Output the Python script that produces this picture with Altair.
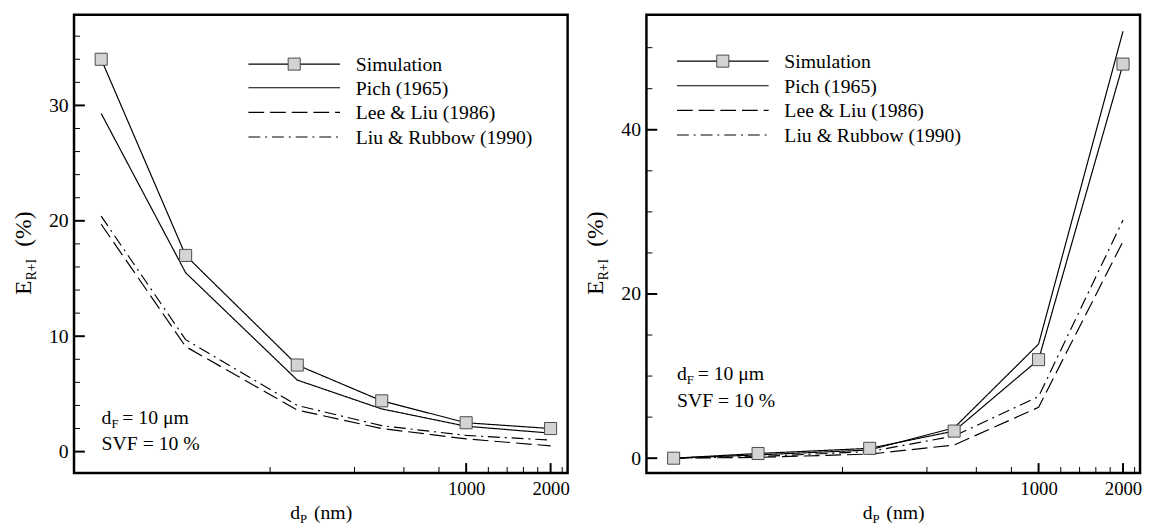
import altair as alt
import pandas as pd

FONT = "Liberation Serif"

# ---------------- data ----------------
dp_nm = [50, 100, 250, 500, 1000, 2000]
series_names = ["Simulation", "Pich (1965)", "Lee & Liu (1986)", "Liu & Rubbow (1990)"]

left_simulation = [34.0, 17.0, 7.5, 4.4, 2.5, 2.0]
left_pich = [29.3, 15.5, 6.2, 3.7, 2.2, 1.6]
left_lee_liu = [19.7, 9.1, 3.6, 2.0, 1.1, 0.5]
left_liu_rubbow = [20.4, 9.7, 4.0, 2.25, 1.4, 1.0]

right_simulation = [0.0, 0.57, 1.2, 3.3, 12.0, 48.0]
right_pich = [0.0, 0.4, 1.0, 3.7, 13.9, 52.0]
right_lee_liu = [0.0, 0.1, 0.5, 1.6, 6.2, 26.4]
right_liu_rubbow = [0.0, 0.2, 0.8, 2.7, 7.5, 29.0]

x_major_ticks = [1000, 2000]
x_minor_ticks = [200, 400, 600, 800, 1200, 1400, 1600, 1800, 2200]
left_y_major = [0, 10, 20, 30]
left_y_minor = [2, 4, 6, 8, 12, 14, 16, 18, 22, 24, 26, 28, 32, 34, 36]
right_y_major = [0, 20, 40]
right_y_minor = [5, 10, 15, 25, 30, 35, 45, 50]

annotation_line1 = ("d", "F", "= 10 μm")
annotation_line2 = "SVF = 10 %"

# ---------------- style ----------------
W, H = 501, 465
X_DOMAIN = [40, 2300]
DASHES = [[1, 0], [1, 0], [16, 6], [12, 5, 2, 5]]
MAIN_FS = 20
SUB_FS = 13


def one_row():
    return alt.Chart(pd.DataFrame({"k": [0]}))


def text_at(txt, x, y, size=MAIN_FS, angle=None, align="left"):
    kw = dict(align=align, baseline="alphabetic", font=FONT, fontSize=size, color="black")
    if angle is not None:
        kw["angle"] = angle
    return one_row().mark_text(**kw).encode(
        x=alt.value(x), y=alt.value(y), text=alt.value(txt)
    )


def panel(values, ydomain, ymajor, yminor, legend_x, legend_y, ann_x, ann_y):
    rows = []
    for name, vals in zip(series_names, values):
        for d, v in zip(dp_nm, vals):
            rows.append({"dp": d, "E": v, "series": name})
    df = pd.DataFrame(rows)

    xs = alt.Scale(type="log", domain=X_DOMAIN)
    ys = alt.Scale(domain=ydomain, nice=False, zero=False)

    x_axis = alt.Axis(values=x_major_ticks, format="d", ticks=False, tickSize=0, domain=False,
                      grid=False, title=None, labelFont=FONT, labelFontSize=19,
                      labelPadding=7, labelFlush=False, labelColor="black", labelOverlap=False)
    y_axis = alt.Axis(values=ymajor, format="d", ticks=False, tickSize=0, domain=False,
                      grid=False, title=None, labelFont=FONT, labelFontSize=20,
                      labelPadding=6, labelColor="black", labelOverlap=False)

    lines = alt.Chart(df).mark_line(color="black", strokeWidth=1.2).encode(
        x=alt.X("dp:Q", scale=xs, axis=x_axis),
        y=alt.Y("E:Q", scale=ys, axis=y_axis),
        strokeDash=alt.StrokeDash("series:N", scale=alt.Scale(domain=series_names, range=DASHES),
                                  legend=None),
    )
    pts = alt.Chart(df[df.series == "Simulation"]).mark_square(
        size=150, fill="#d3d3d3", stroke="#4a4a4a", strokeWidth=1, opacity=1
    ).encode(
        x=alt.X("dp:Q", scale=xs, axis=x_axis),
        y=alt.Y("E:Q", scale=ys, axis=y_axis),
    )

    def xticks(vals, length, sw):
        return alt.Chart(pd.DataFrame({"dp": vals})).mark_rule(color="black", strokeWidth=sw).encode(
            x=alt.X("dp:Q", scale=xs, axis=x_axis), y=alt.value(H), y2=alt.value(H - length))

    def yticks(vals, length, sw):
        return alt.Chart(pd.DataFrame({"E": vals})).mark_rule(color="black", strokeWidth=sw).encode(
            y=alt.Y("E:Q", scale=ys, axis=y_axis), x=alt.value(0), x2=alt.value(length))

    layers = [lines, pts,
              xticks(x_major_ticks, 10, 2), xticks(x_minor_ticks, 6, 1),
              yticks(ymajor, 11, 2), yticks(yminor, 6, 1)]

    # legend
    for i, name in enumerate(series_names):
        yy = legend_y[i]
        layers.append(one_row().mark_rule(color="black", strokeWidth=1.2, strokeDash=DASHES[i]).encode(
            x=alt.value(legend_x), x2=alt.value(legend_x + 93), y=alt.value(yy)))
        if name == "Simulation":
            layers.append(one_row().mark_square(size=150, fill="#d3d3d3", stroke="#4a4a4a",
                                                strokeWidth=1, opacity=1).encode(
                x=alt.value(legend_x + 46.5), y=alt.value(yy)))
        layers.append(one_row().mark_text(align="left", baseline="middle", font=FONT,
                                          fontSize=MAIN_FS, color="black").encode(
            x=alt.value(legend_x + 109), y=alt.value(yy + 1), text=alt.value(name)))

    # annotation
    layers.append(text_at(annotation_line1[0], ann_x, ann_y))
    layers.append(text_at(annotation_line1[1], ann_x + 10, ann_y + 4, SUB_FS))
    layers.append(text_at(annotation_line1[2], ann_x + 21, ann_y))
    layers.append(text_at(annotation_line2, ann_x, ann_y + 27))

    # x title d_P (nm)
    tx = W / 2 - 31
    ty = H + 47
    layers.append(text_at("d", tx, ty))
    layers.append(text_at("P", tx + 10, ty + 4, SUB_FS))
    layers.append(text_at("(nm)", tx + 24, ty))

    # y title E_R+I (%)
    y0 = H / 2 + 52
    bx = -44
    layers.append(text_at("E", bx, y0, size=24, angle=270))
    layers.append(text_at("R+I", bx + 5, y0 - 15, size=14, angle=270))
    layers.append(text_at("(%)", bx, y0 - 49, size=24, angle=270))

    return alt.layer(*layers).properties(width=W, height=H)


left = panel([left_simulation, left_pich, left_lee_liu, left_liu_rubbow],
             [-1.85, 37.85], left_y_major, left_y_minor,
             legend_x=177, legend_y=[50, 74, 99, 124], ann_x=28, ann_y=415)
right = panel([right_simulation, right_pich, right_lee_liu, right_liu_rubbow],
              [-1.8, 54], right_y_major, right_y_minor,
              legend_x=31, legend_y=[47, 72, 97, 122], ann_x=31, ann_y=371)

chart = alt.hconcat(left, right, spacing=12).properties(
    padding={"left": 2, "top": 1, "right": 0, "bottom": 0},
    background="white",
).configure_view(stroke="black", strokeWidth=2.5)

chart.save("out.html", embed_options={"renderer": "svg", "actions": False})
